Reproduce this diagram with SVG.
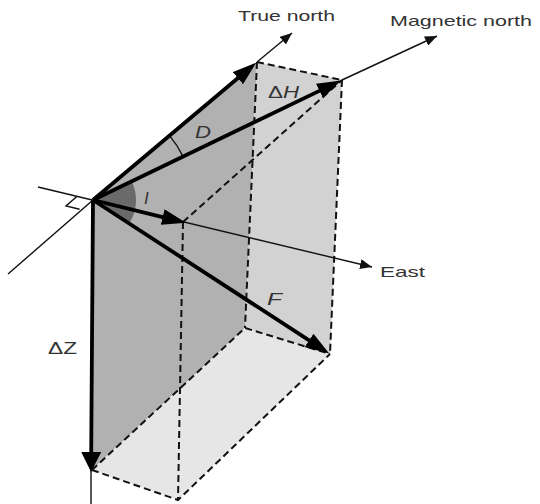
<svg xmlns="http://www.w3.org/2000/svg" width="540" height="504" viewBox="0 0 540 504">
<defs>
<style>
.thick{stroke:#000;stroke-width:3.8;fill:none}
.thin{stroke:#111;stroke-width:1.4;fill:none}
.dash{stroke:#111;stroke-width:2;stroke-dasharray:7 4;fill:none}
.lbl{font-family:"Liberation Sans",Arial,sans-serif;font-size:15px;fill:#333}
.sym{font-family:"Liberation Sans",Arial,sans-serif;font-size:17px;fill:#333}
.it{font-style:italic}
</style>
<marker id="big" markerUnits="userSpaceOnUse" viewBox="0 0 24 16" markerWidth="24" markerHeight="16" refX="1" refY="8" orient="auto"><path d="M0,0 L24,8 L0,16 z" fill="#000"/></marker>
<marker id="bigz" markerUnits="userSpaceOnUse" viewBox="0 0 20 20" markerWidth="20" markerHeight="20" refX="1" refY="10" orient="auto"><path d="M0,0 L20,10 L0,20 z" fill="#000"/></marker>
<marker id="small" markerUnits="userSpaceOnUse" viewBox="0 0 12 10" markerWidth="12" markerHeight="10" refX="12" refY="5" orient="auto"><path d="M0,0 L12,5 L0,10 z" fill="#111"/></marker>
</defs>
<rect width="540" height="504" fill="#fff"/>
<g id="faces">
<polygon id="left-face" points="93,200 257,62 245,328 92,470" fill="#b1b1b1"/>
<polygon id="right-face" points="257,62 342,80 330,354 245,328" fill="#d2d2d2"/>
<polygon id="bottom-face" points="92,470 178,500 330,354 245,328" fill="#e6e6e6"/>
<path id="angle-I" d="M93,200 L131.7,181.4 A43,43 0 0 1 129.1,223.6 Z" fill="#6a6a6a"/>
</g>
<g id="connectors">
<polyline class="dash" points="257,62 342,80"/>
<line class="dash" x1="183" y1="222" x2="342" y2="80"/>
<line class="dash" x1="257" y1="62" x2="245" y2="328"/>
<line class="dash" x1="342" y1="80" x2="330" y2="354"/>
<line class="dash" x1="183" y1="222" x2="178" y2="500"/>
<polyline class="dash" points="92,470 245,328 330,354"/>
<polyline class="dash" points="92,470 178,500 330,354"/>
<line class="thin" x1="38" y1="187" x2="372" y2="267" marker-end="url(#small)"/>
<line class="thin" x1="93" y1="200" x2="8" y2="274"/>
<line class="thin" x1="257" y1="62" x2="292" y2="33" marker-end="url(#small)"/>
<line class="thin" x1="342" y1="80" x2="437" y2="36" marker-end="url(#small)"/>
<line class="thin" x1="91" y1="470" x2="91" y2="504"/>
<polyline class="thin" points="76.6,196.8 66,206 79.6,209.2"/>
<path class="thin" d="M169.5,135.6 A100,100 0 0 1 183.1,156.6"/>
<line class="thick" x1="93" y1="200" x2="238.6" y2="77.5" marker-end="url(#big)"/>
<line class="thick" x1="93" y1="200" x2="320.4" y2="90.4" marker-end="url(#big)"/>
<line class="thick" x1="93" y1="200" x2="163.6" y2="217.3" marker-end="url(#big)"/>
<line class="thick" x1="93" y1="200" x2="309.9" y2="340.9" marker-end="url(#big)"/>
<line class="thick" x1="93" y1="200" x2="91.2" y2="453" marker-end="url(#bigz)"/>
</g>
<g id="labels">
<text class="lbl" x="238" y="21" textLength="97" lengthAdjust="spacingAndGlyphs">True north</text>
<text class="lbl" x="390" y="26" textLength="142" lengthAdjust="spacingAndGlyphs">Magnetic north</text>
<text class="lbl" x="380" y="277" textLength="45" lengthAdjust="spacingAndGlyphs">East</text>
<text class="sym" x="268" y="98" textLength="31" lengthAdjust="spacingAndGlyphs">Δ<tspan class="it">H</tspan></text>
<text class="sym it" x="195" y="138" textLength="16" lengthAdjust="spacingAndGlyphs">D</text>
<text class="sym it" x="144" y="204">I</text>
<text class="sym it" x="267" y="305" textLength="15" lengthAdjust="spacingAndGlyphs">F</text>
<text class="sym" x="48" y="354" textLength="29" lengthAdjust="spacingAndGlyphs">ΔZ</text>
</g>
</svg>
